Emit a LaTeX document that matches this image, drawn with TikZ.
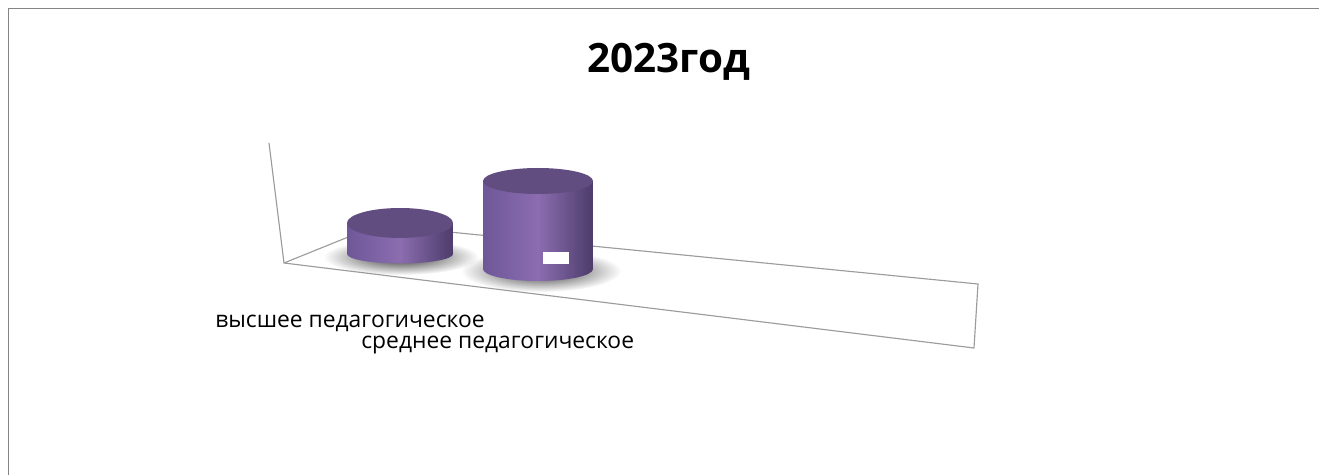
\documentclass[tikz,border=0pt]{standalone}
\usepackage{fontspec}
\setmainfont{Open Sans}
\usetikzlibrary{fadings}
\definecolor{violetTop}{HTML}{614D80}
\definecolor{violetLight}{HTML}{8B6DB0}
\definecolor{violetLeft}{HTML}{6E5798}
\definecolor{violetDark}{HTML}{4D3C6B}
\definecolor{frameGray}{HTML}{858585}
\definecolor{axisGray}{HTML}{9C9C9C}
\tikzfading[name=softshadow, inner color=transparent!0, outer color=transparent!100]
\begin{document}
\begin{tikzpicture}[x=0.02cm, y=-0.02cm,
  cylside/.style={left color=violetLeft, right color=violetDark, middle color=violetLight},
  cyltop/.style={fill=violetTop},
  shadow/.style={fill=black, fill opacity=0.8, path fading=softshadow},
  axisline/.style={draw=axisGray, line width=0.65pt},
  catlabel/.style={anchor=base west, inner sep=0pt, font=\fontsize{13}{15}\selectfont}]

\useasboundingbox (0,0) rectangle (1319,475);

\draw[frameGray, line width=1.1pt] (8.5,480) -- (8.5,8.5) -- (1330,8.5);

\node[anchor=base, inner sep=0pt, font=\fontsize{23}{27}\selectfont\bfseries] (title) at (669,73) {2023год};

\coordinate (w0) at (269,143);
\coordinate (f0) at (284,263);
\coordinate (b0) at (378,225);
\coordinate (b1) at (978,284);
\coordinate (f1) at (974,348);
\draw[axisline] (w0) -- (f0) -- (b0) -- (b1) -- (f1) -- (f0);

\coordinate (t0) at (400,223);
\coordinate (s0) at (401,257);
\fill[shadow] (s0) ellipse [x radius=1.55cm, y radius=0.36cm];
\shade[cylside] ([xshift=-1.06cm]t0) -- ++(0,31) arc[start angle=180, end angle=360, x radius=1.06cm, y radius=0.19cm] -- ++(0,-31) -- cycle;
\fill[cyltop] (t0) ellipse [x radius=1.06cm, y radius=0.3cm];

\coordinate (t1) at (538,181);
\coordinate (s1) at (541,271);
\fill[shadow] (s1) ellipse [x radius=1.6cm, y radius=0.42cm];
\shade[cylside] ([xshift=-1.1cm]t1) -- ++(0,88) arc[start angle=180, end angle=360, x radius=1.1cm, y radius=0.24cm] -- ++(0,-88) -- cycle;
\fill[cyltop] (t1) ellipse [x radius=1.1cm, y radius=0.26cm];
\node[fill=white, inner sep=0pt, minimum width=0.52cm, minimum height=0.24cm] (v1) at (556,258) {};

\node[catlabel] (l0) at (215,328) {высшее педагогическое};
\node[catlabel] (l1) at (361,349) {среднее педагогическое};

\end{tikzpicture}
\end{document}
